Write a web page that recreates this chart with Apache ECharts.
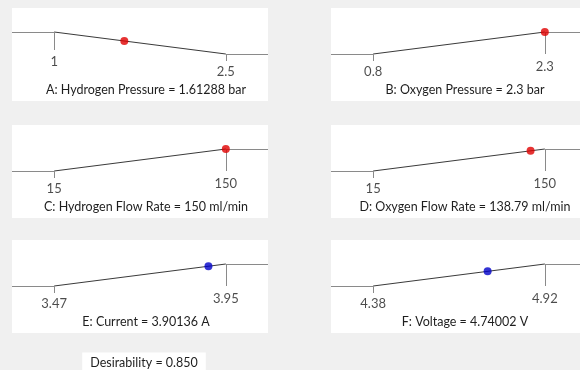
<!DOCTYPE html>
<html>
<head>
<meta charset="utf-8">
<script src="https://cdn.jsdelivr.net/npm/echarts@6/dist/echarts.min.js"></script>
<style>
  html, body { margin: 0; padding: 0; background: #f0f0f0; }
  #chart { width: 580px; height: 370px; }
</style>
</head>
<body>
<div id="chart"></div>
<script>
// factor names, ranges and the optimum found
const factors = ['A: Hydrogen Pressure', 'B: Oxygen Pressure', 'C: Hydrogen Flow Rate',
  'D: Oxygen Flow Rate', 'E: Current', 'F: Voltage'];
const lows = [1, 0.8, 15, 15, 3.47, 4.38];
const highs = [2.5, 2.3, 150, 150, 3.95, 4.92];
const lowLabels = ['1', '0.8', '15', '15', '3.47', '4.38'];
const highLabels = ['2.5', '2.3', '150', '150', '3.95', '4.92'];
const optimum = [1.61288, 2.3, 150, 138.79, 3.90136, 4.74002];
const optimumText = ['1.61288', '2.3', '150', '138.79', '3.90136', '4.74002'];
const units = ['bar', 'bar', 'ml/min', 'ml/min', 'A', 'V'];
const rampUp = [false, true, true, true, true, true];
const desirability = '0.850';

// layout / style
const colX = [12, 331];
const rowY = [8, 125, 240];
const boxW = 256, boxH = 93;
const margin = 42, span = 171;
const TOP_LEVEL = 24, LOW_LEVEL = 46;
const dotColors = ['#e00000', '#e00000', '#e00000', '#e00000', '#0000c8', '#0000c8'];
const font = 'Lato';
const textColor = '#1e1e1e';

const grids = [], xAxes = [], yAxes = [], series = [], titles = [];

factors.forEach((name, i) => {
  const lo = lows[i], hi = highs[i];
  const pad = (hi - lo) * margin / span;
  const xmin = lo - pad, xmax = hi + pad;
  const left = colX[i % 2], top = rowY[Math.floor(i / 2)];

  grids.push({ left: left, top: top, width: boxW, height: boxH, show: true,
    backgroundColor: '#fff', borderWidth: 0, containLabel: false, outerBoundsMode: 'none' });
  xAxes.push({ gridIndex: i, type: 'value', min: xmin, max: xmax, show: false });
  yAxes.push({ gridIndex: i, type: 'value', min: 0, max: boxH, inverse: true, show: false });

  // level of the line at the low and the high end
  const yLo = rampUp[i] ? LOW_LEVEL : TOP_LEVEL;
  const yHi = rampUp[i] ? TOP_LEVEL : LOW_LEVEL;
  const tickEnd = y => (y === TOP_LEVEL ? (i === 0 ? 42 : 46) : 53);
  const labelY = y => (y === TOP_LEVEL ? (i === 0 ? 54 : 59) : 64);

  const flat = { color: '#8a8a8a', width: 1, opacity: 1 };
  const ramp = { color: '#3a3a3a', width: 1, opacity: 1 };
  series.push({
    type: 'lines', coordinateSystem: 'cartesian2d', xAxisIndex: i, yAxisIndex: i,
    silent: true, z: 2,
    lineStyle: { opacity: 1 },
    data: [
      { coords: [[xmin, yLo], [lo, yLo]], lineStyle: flat },
      { coords: [[lo, yLo], [hi, yHi]], lineStyle: ramp },
      { coords: [[hi, yHi], [xmax, yHi]], lineStyle: flat },
      { coords: [[lo, yLo], [lo, tickEnd(yLo)]], lineStyle: flat },
      { coords: [[hi, yHi], [hi, tickEnd(yHi)]], lineStyle: flat }
    ]
  });

  series.push({
    type: 'scatter', xAxisIndex: i, yAxisIndex: i, symbolSize: 0, silent: true,
    data: [
      { name: lowLabels[i], value: [lo, labelY(yLo)] },
      { name: highLabels[i], value: [hi, labelY(yHi)] }
    ],
    label: { show: true, position: 'inside', formatter: '{b}', color: textColor,
      fontFamily: font, fontSize: 13 }
  });

  // the optimum sits on the ramp
  const t = (optimum[i] - lo) / (hi - lo);
  series.push({
    type: 'scatter', xAxisIndex: i, yAxisIndex: i, symbolSize: 8, silent: true, z: 5,
    itemStyle: { color: dotColors[i] },
    data: [[optimum[i], yLo + (yHi - yLo) * t]]
  });

  titles.push({
    text: name + ' = ' + optimumText[i] + ' ' + units[i],
    left: left + boxW / 2 + 6, top: top + 82, textAlign: 'center', textVerticalAlign: 'middle',
    padding: 0,
    textStyle: { fontFamily: font, fontSize: 12.5, fontWeight: 'normal', color: textColor }
  });
});

titles.push({
  text: 'Desirability = ' + desirability,
  left: 136, top: 359, textAlign: 'center', textVerticalAlign: 'middle',
  backgroundColor: '#fff', padding: [4, 8, 6, 8],
  textStyle: { fontFamily: font, fontSize: 12.5, fontWeight: 'normal', color: textColor }
});

const chart = echarts.init(document.getElementById('chart'));
chart.setOption({
  backgroundColor: '#f0f0f0',
  animation: false,
  title: titles,
  grid: grids,
  xAxis: xAxes,
  yAxis: yAxes,
  series: series
});
</script>
</body>
</html>
